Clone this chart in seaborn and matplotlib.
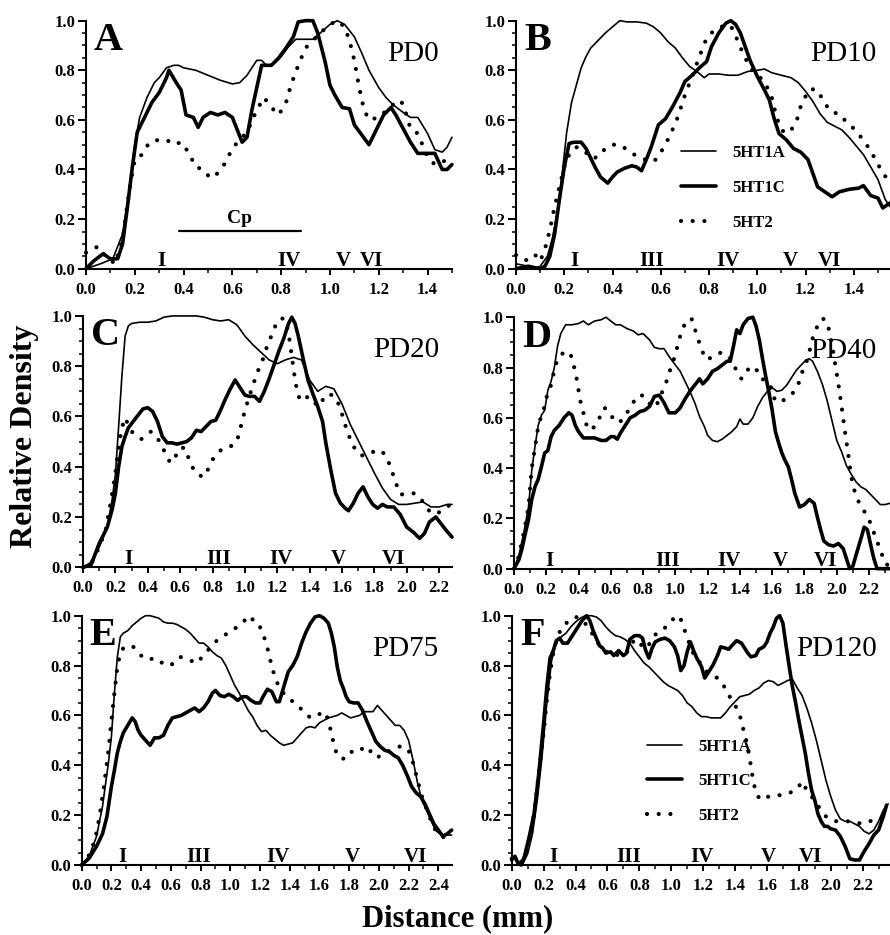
import numpy as np
import pandas as pd
import matplotlib
matplotlib.use("Agg")
import matplotlib.pyplot as plt
import seaborn as sns
from matplotlib.ticker import MultipleLocator, FormatStrFormatter

# ---------------- DATA ----------------
series_names = ["5HT1A", "5HT1C", "5HT2"]
panel_letters = ["A", "B", "C", "D", "E", "F"]
panel_ages = ["PD0", "PD10", "PD20", "PD40", "PD75", "PD120"]
panel_xmax = [1.5, 1.55, 2.28, 2.33, 2.49, 2.37]
panel_xtick_max = [1.4, 1.4, 2.2, 2.2, 2.4, 2.2]

A_5HT1A = [(0, 0), (0.06, 0.02), (0.11, 0.04), (0.15, 0.14), (0.18, 0.33), (0.2, 0.5), (0.22, 0.61), (0.25, 0.69),
           (0.28, 0.75), (0.3, 0.77), (0.33, 0.81), (0.36, 0.82), (0.38, 0.82), (0.4, 0.81), (0.45, 0.8), (0.5, 0.78),
           (0.55, 0.76), (0.6, 0.745), (0.63, 0.75), (0.66, 0.78), (0.7, 0.84), (0.72, 0.84), (0.74, 0.82),
           (0.77, 0.825), (0.8, 0.855), (0.83, 0.895), (0.86, 0.925), (0.9, 0.925), (0.93, 0.925), (0.96, 0.95),
           (1.0, 0.985), (1.03, 1.0), (1.06, 0.985), (1.1, 0.935), (1.13, 0.87), (1.16, 0.8), (1.2, 0.73),
           (1.23, 0.69), (1.26, 0.66), (1.3, 0.63), (1.33, 0.61), (1.36, 0.61), (1.4, 0.545), (1.43, 0.48),
           (1.46, 0.47), (1.48, 0.49), (1.5, 0.53)]
A_5HT1C = [(0, 0), (0.03, 0.03), (0.07, 0.06), (0.1, 0.04), (0.13, 0.04), (0.15, 0.10), (0.17, 0.25), (0.19, 0.41),
           (0.21, 0.55), (0.24, 0.61), (0.27, 0.67), (0.3, 0.71), (0.33, 0.77), (0.34, 0.80), (0.37, 0.75),
           (0.39, 0.72), (0.41, 0.62), (0.44, 0.61), (0.46, 0.57), (0.48, 0.61), (0.51, 0.63), (0.54, 0.62),
           (0.57, 0.63), (0.6, 0.61), (0.62, 0.56), (0.64, 0.51), (0.66, 0.53), (0.68, 0.64), (0.7, 0.73),
           (0.72, 0.82), (0.76, 0.82), (0.79, 0.85), (0.82, 0.89), (0.85, 0.935), (0.87, 0.995), (0.9, 1.0),
           (0.93, 1.0), (0.95, 0.95), (0.98, 0.835), (1.0, 0.74), (1.02, 0.70), (1.05, 0.65), (1.08, 0.645),
           (1.1, 0.58), (1.13, 0.54), (1.16, 0.50), (1.19, 0.56), (1.22, 0.62), (1.25, 0.65), (1.27, 0.62),
           (1.3, 0.565), (1.33, 0.51), (1.36, 0.465), (1.4, 0.465), (1.43, 0.465), (1.46, 0.40), (1.48, 0.40),
           (1.5, 0.42)]
A_5HT2 = [(0, 0.065), (0.05, 0.09), (0.08, 0.05), (0.12, 0.02), (0.15, 0.12), (0.18, 0.33), (0.2, 0.44),
          (0.23, 0.46), (0.26, 0.51), (0.3, 0.52), (0.33, 0.52), (0.36, 0.50), (0.39, 0.51), (0.42, 0.47),
          (0.45, 0.41), (0.48, 0.40), (0.51, 0.365), (0.54, 0.385), (0.57, 0.425), (0.6, 0.485), (0.63, 0.52),
          (0.66, 0.55), (0.7, 0.64), (0.73, 0.69), (0.76, 0.65), (0.79, 0.62), (0.82, 0.67), (0.84, 0.74),
          (0.87, 0.82), (0.9, 0.89), (0.93, 0.92), (0.96, 0.95), (1.0, 0.985), (1.03, 1.0), (1.06, 0.975),
          (1.08, 0.92), (1.1, 0.84), (1.12, 0.73), (1.14, 0.64), (1.16, 0.60), (1.2, 0.61), (1.24, 0.645),
          (1.28, 0.68), (1.3, 0.665), (1.33, 0.565), (1.36, 0.545), (1.4, 0.45), (1.43, 0.42), (1.46, 0.43),
          (1.5, 0.45)]

B_5HT1A = [(0, 0.02), (0.05, 0.01), (0.08, 0.0), (0.1, 0.01), (0.13, 0.05), (0.15, 0.12), (0.17, 0.22),
           (0.19, 0.37), (0.21, 0.55), (0.23, 0.67), (0.25, 0.74), (0.27, 0.81), (0.29, 0.855), (0.31, 0.89),
           (0.34, 0.92), (0.37, 0.95), (0.4, 0.975), (0.43, 1.0), (0.46, 0.995), (0.5, 0.995), (0.54, 0.99),
           (0.57, 0.975), (0.6, 0.95), (0.63, 0.915), (0.66, 0.89), (0.69, 0.85), (0.72, 0.815), (0.75, 0.795),
           (0.78, 0.77), (0.8, 0.785), (0.84, 0.785), (0.88, 0.78), (0.92, 0.78), (0.96, 0.795), (1.0, 0.80),
           (1.03, 0.805), (1.06, 0.79), (1.1, 0.78), (1.14, 0.77), (1.17, 0.75), (1.2, 0.715), (1.23, 0.675),
           (1.26, 0.625), (1.29, 0.59), (1.32, 0.575), (1.35, 0.56), (1.38, 0.53), (1.41, 0.495), (1.44, 0.46),
           (1.47, 0.41), (1.5, 0.36), (1.53, 0.28), (1.55, 0.25)]
B_5HT1C = [(0, 0.0), (0.05, 0.01), (0.1, 0.0), (0.12, 0.01), (0.14, 0.05), (0.16, 0.14), (0.18, 0.28), (0.2, 0.41),
           (0.22, 0.505), (0.24, 0.51), (0.27, 0.51), (0.29, 0.485), (0.31, 0.445), (0.33, 0.405), (0.35, 0.37),
           (0.38, 0.345), (0.4, 0.37), (0.42, 0.39), (0.45, 0.405), (0.48, 0.415), (0.5, 0.41), (0.52, 0.395),
           (0.54, 0.44), (0.56, 0.49), (0.59, 0.58), (0.62, 0.605), (0.65, 0.655), (0.68, 0.71), (0.7, 0.755),
           (0.73, 0.78), (0.76, 0.81), (0.79, 0.835), (0.81, 0.895), (0.84, 0.95), (0.87, 0.99), (0.89, 1.0),
           (0.91, 0.985), (0.93, 0.95), (0.95, 0.895), (0.97, 0.84), (1.0, 0.775), (1.03, 0.72), (1.05, 0.68),
           (1.07, 0.605), (1.09, 0.545), (1.12, 0.52), (1.15, 0.485), (1.18, 0.47), (1.21, 0.44), (1.23, 0.385),
           (1.25, 0.33), (1.28, 0.31), (1.31, 0.29), (1.34, 0.31), (1.38, 0.32), (1.42, 0.325), (1.44, 0.335),
           (1.47, 0.295), (1.5, 0.285), (1.52, 0.245), (1.55, 0.265)]
B_5HT2 = [(0, 0.055), (0.03, 0.035), (0.06, 0.035), (0.08, 0.055), (0.1, 0.03), (0.12, 0.08), (0.14, 0.155),
          (0.16, 0.25), (0.18, 0.33), (0.2, 0.41), (0.22, 0.46), (0.25, 0.49), (0.28, 0.48), (0.31, 0.445),
          (0.34, 0.45), (0.37, 0.485), (0.4, 0.50), (0.43, 0.50), (0.46, 0.48), (0.49, 0.46), (0.52, 0.45),
          (0.55, 0.43), (0.58, 0.44), (0.61, 0.485), (0.64, 0.54), (0.67, 0.61), (0.7, 0.70), (0.73, 0.775),
          (0.76, 0.855), (0.79, 0.93), (0.82, 0.96), (0.85, 0.975), (0.88, 0.985), (0.9, 0.965), (0.92, 0.915),
          (0.94, 0.87), (0.96, 0.83), (0.98, 0.80), (1.0, 0.78), (1.03, 0.755), (1.06, 0.69), (1.08, 0.61),
          (1.1, 0.56), (1.12, 0.545), (1.14, 0.56), (1.16, 0.585), (1.18, 0.655), (1.2, 0.695), (1.22, 0.725),
          (1.25, 0.72), (1.28, 0.665), (1.31, 0.63), (1.34, 0.625), (1.37, 0.59), (1.4, 0.565), (1.43, 0.53),
          (1.46, 0.49), (1.49, 0.44), (1.52, 0.385), (1.55, 0.35)]

C_5HT1A = [(0, 0), (0.05, 0.02), (0.1, 0.08), (0.15, 0.16), (0.18, 0.27), (0.2, 0.37), (0.22, 0.56), (0.24, 0.76),
           (0.26, 0.92), (0.28, 0.96), (0.3, 0.97), (0.35, 0.975), (0.4, 0.975), (0.45, 0.98), (0.5, 0.995),
           (0.55, 1.0), (0.6, 1.0), (0.65, 1.0), (0.7, 1.0), (0.75, 0.995), (0.8, 0.985), (0.85, 0.98),
           (0.9, 0.985), (0.95, 0.965), (1.0, 0.92), (1.05, 0.885), (1.1, 0.855), (1.15, 0.825), (1.2, 0.81),
           (1.25, 0.825), (1.3, 0.835), (1.35, 0.825), (1.4, 0.745), (1.45, 0.70), (1.5, 0.72), (1.55, 0.71),
           (1.6, 0.65), (1.65, 0.57), (1.7, 0.505), (1.75, 0.44), (1.8, 0.375), (1.85, 0.315), (1.9, 0.27),
           (1.95, 0.25), (2.0, 0.25), (2.05, 0.255), (2.1, 0.26), (2.15, 0.24), (2.2, 0.24), (2.25, 0.25),
           (2.28, 0.25)]
C_5HT1C = [(0, 0), (0.05, 0.01), (0.1, 0.095), (0.15, 0.16), (0.18, 0.23), (0.2, 0.295), (0.22, 0.40), (0.24, 0.48),
           (0.26, 0.52), (0.28, 0.555), (0.31, 0.58), (0.34, 0.605), (0.37, 0.63), (0.4, 0.635), (0.43, 0.62),
           (0.46, 0.58), (0.49, 0.52), (0.52, 0.495), (0.55, 0.495), (0.58, 0.49), (0.61, 0.495), (0.64, 0.50),
           (0.67, 0.515), (0.7, 0.545), (0.73, 0.54), (0.76, 0.56), (0.79, 0.58), (0.82, 0.585), (0.85, 0.625),
           (0.88, 0.67), (0.91, 0.71), (0.94, 0.745), (0.97, 0.715), (1.0, 0.685), (1.03, 0.68), (1.06, 0.68),
           (1.09, 0.66), (1.12, 0.70), (1.15, 0.75), (1.18, 0.805), (1.21, 0.86), (1.24, 0.91), (1.27, 0.97),
           (1.29, 0.995), (1.31, 0.97), (1.33, 0.92), (1.36, 0.83), (1.39, 0.745), (1.42, 0.69), (1.45, 0.64),
           (1.48, 0.58), (1.5, 0.495), (1.53, 0.39), (1.56, 0.295), (1.59, 0.255), (1.62, 0.235), (1.64, 0.225),
           (1.67, 0.255), (1.7, 0.295), (1.73, 0.32), (1.76, 0.28), (1.79, 0.25), (1.82, 0.235), (1.85, 0.25),
           (1.88, 0.24), (1.92, 0.24), (1.96, 0.21), (2.0, 0.16), (2.04, 0.14), (2.08, 0.115), (2.11, 0.135),
           (2.14, 0.18), (2.18, 0.20), (2.21, 0.175), (2.24, 0.15), (2.28, 0.12)]
C_5HT2 = [(0, 0), (0.05, 0.015), (0.1, 0.08), (0.14, 0.15), (0.17, 0.255), (0.2, 0.375), (0.22, 0.48), (0.24, 0.555),
          (0.26, 0.595), (0.28, 0.565), (0.3, 0.54), (0.33, 0.525), (0.36, 0.51), (0.39, 0.525), (0.42, 0.54),
          (0.45, 0.52), (0.48, 0.495), (0.51, 0.45), (0.54, 0.415), (0.57, 0.44), (0.6, 0.475), (0.63, 0.475),
          (0.66, 0.42), (0.69, 0.38), (0.72, 0.365), (0.75, 0.36), (0.78, 0.40), (0.81, 0.44), (0.84, 0.46),
          (0.87, 0.475), (0.9, 0.48), (0.93, 0.485), (0.96, 0.52), (0.99, 0.60), (1.02, 0.665), (1.05, 0.725),
          (1.08, 0.78), (1.11, 0.825), (1.14, 0.885), (1.17, 0.93), (1.2, 0.98), (1.23, 0.99), (1.25, 0.985),
          (1.27, 0.93), (1.29, 0.84), (1.31, 0.745), (1.33, 0.68), (1.36, 0.66), (1.39, 0.68), (1.42, 0.665),
          (1.45, 0.64), (1.48, 0.665), (1.51, 0.69), (1.54, 0.685), (1.57, 0.665), (1.6, 0.61), (1.63, 0.545),
          (1.66, 0.495), (1.69, 0.46), (1.72, 0.445), (1.75, 0.445), (1.78, 0.455), (1.81, 0.465), (1.84, 0.465),
          (1.87, 0.445), (1.9, 0.40), (1.93, 0.34), (1.96, 0.29), (2.0, 0.29), (2.04, 0.295), (2.08, 0.28),
          (2.11, 0.25), (2.15, 0.215), (2.19, 0.215), (2.23, 0.23), (2.27, 0.25)]

D_5HT1A = [(0, 0), (0.03, 0.05), (0.06, 0.14), (0.09, 0.245), (0.11, 0.39), (0.13, 0.485), (0.15, 0.57), (0.17, 0.61),
           (0.19, 0.63), (0.21, 0.71), (0.23, 0.745), (0.25, 0.80), (0.27, 0.885), (0.29, 0.935), (0.32, 0.97),
           (0.36, 0.97), (0.4, 0.975), (0.43, 0.985), (0.46, 0.97), (0.5, 0.985), (0.54, 0.99), (0.57, 1.0),
           (0.6, 0.985), (0.63, 0.97), (0.66, 0.97), (0.7, 0.955), (0.74, 0.945), (0.77, 0.93), (0.8, 0.935),
           (0.84, 0.91), (0.87, 0.88), (0.9, 0.875), (0.93, 0.875), (0.96, 0.845), (1.0, 0.81), (1.03, 0.785),
           (1.06, 0.745), (1.09, 0.705), (1.12, 0.66), (1.15, 0.605), (1.18, 0.565), (1.2, 0.53), (1.23, 0.51),
           (1.26, 0.505), (1.29, 0.515), (1.32, 0.53), (1.35, 0.545), (1.38, 0.565), (1.4, 0.595), (1.42, 0.575),
           (1.45, 0.575), (1.48, 0.60), (1.51, 0.645), (1.54, 0.68), (1.57, 0.705), (1.6, 0.72), (1.63, 0.705),
           (1.66, 0.71), (1.69, 0.73), (1.72, 0.76), (1.75, 0.79), (1.78, 0.81), (1.81, 0.83), (1.83, 0.835),
           (1.85, 0.825), (1.88, 0.785), (1.91, 0.735), (1.94, 0.67), (1.97, 0.59), (2.0, 0.51), (2.03, 0.465),
           (2.06, 0.41), (2.09, 0.375), (2.12, 0.345), (2.15, 0.325), (2.18, 0.315), (2.21, 0.295), (2.24, 0.275),
           (2.27, 0.255), (2.3, 0.255), (2.33, 0.26)]
D_5HT1C = [(0, 0), (0.03, 0.035), (0.05, 0.08), (0.07, 0.14), (0.09, 0.195), (0.11, 0.275), (0.13, 0.325),
           (0.15, 0.355), (0.17, 0.405), (0.19, 0.46), (0.21, 0.47), (0.23, 0.525), (0.25, 0.55), (0.28, 0.57),
           (0.31, 0.60), (0.34, 0.62), (0.36, 0.61), (0.38, 0.57), (0.4, 0.545), (0.43, 0.52), (0.46, 0.52),
           (0.5, 0.52), (0.54, 0.51), (0.57, 0.51), (0.6, 0.525), (0.62, 0.525), (0.64, 0.515), (0.66, 0.54),
           (0.69, 0.57), (0.72, 0.60), (0.75, 0.61), (0.78, 0.625), (0.81, 0.63), (0.84, 0.645), (0.87, 0.685),
           (0.9, 0.69), (0.93, 0.66), (0.96, 0.62), (1.0, 0.62), (1.03, 0.64), (1.06, 0.675), (1.09, 0.705),
           (1.12, 0.73), (1.15, 0.755), (1.17, 0.735), (1.2, 0.755), (1.23, 0.785), (1.26, 0.795), (1.29, 0.81),
           (1.32, 0.825), (1.34, 0.825), (1.36, 0.885), (1.38, 0.95), (1.4, 0.935), (1.42, 0.97), (1.45, 0.995),
           (1.48, 1.0), (1.5, 0.965), (1.52, 0.91), (1.54, 0.835), (1.56, 0.765), (1.58, 0.70), (1.6, 0.63),
           (1.62, 0.545), (1.64, 0.50), (1.66, 0.46), (1.68, 0.43), (1.7, 0.405), (1.72, 0.355), (1.74, 0.30),
           (1.77, 0.245), (1.8, 0.255), (1.83, 0.275), (1.86, 0.26), (1.88, 0.205), (1.9, 0.155), (1.92, 0.11),
           (1.95, 0.095), (1.98, 0.09), (2.01, 0.10), (2.04, 0.08), (2.06, 0.04), (2.08, 0.0), (2.1, 0.01),
           (2.12, 0.055), (2.15, 0.12), (2.17, 0.165), (2.19, 0.155), (2.21, 0.095), (2.23, 0.04), (2.25, 0.0),
           (2.33, 0.0)]
D_5HT2 = [(0, 0), (0.03, 0.05), (0.06, 0.14), (0.09, 0.245), (0.11, 0.40), (0.13, 0.48), (0.15, 0.565), (0.17, 0.61),
          (0.19, 0.645), (0.21, 0.705), (0.23, 0.73), (0.25, 0.79), (0.27, 0.835), (0.3, 0.855), (0.33, 0.865),
          (0.35, 0.855), (0.37, 0.81), (0.39, 0.75), (0.41, 0.67), (0.43, 0.62), (0.45, 0.57), (0.47, 0.55),
          (0.5, 0.565), (0.53, 0.60), (0.56, 0.64), (0.59, 0.625), (0.62, 0.59), (0.64, 0.58), (0.67, 0.59),
          (0.7, 0.62), (0.73, 0.65), (0.76, 0.685), (0.79, 0.69), (0.82, 0.68), (0.85, 0.645), (0.88, 0.645),
          (0.91, 0.69), (0.94, 0.735), (0.97, 0.795), (1.0, 0.85), (1.02, 0.905), (1.04, 0.945), (1.06, 0.975),
          (1.08, 0.99), (1.1, 0.995), (1.12, 0.955), (1.14, 0.915), (1.16, 0.875), (1.18, 0.845), (1.2, 0.83),
          (1.23, 0.845), (1.26, 0.855), (1.29, 0.86), (1.32, 0.845), (1.35, 0.83), (1.38, 0.785), (1.41, 0.755),
          (1.44, 0.785), (1.47, 0.805), (1.5, 0.795), (1.53, 0.755), (1.56, 0.75), (1.59, 0.725), (1.61, 0.68),
          (1.64, 0.66), (1.67, 0.67), (1.7, 0.685), (1.73, 0.70), (1.76, 0.73), (1.79, 0.79), (1.82, 0.835),
          (1.85, 0.915), (1.88, 0.965), (1.91, 0.995), (1.93, 0.99), (1.95, 0.955), (1.97, 0.895), (1.99, 0.815),
          (2.01, 0.735), (2.03, 0.645), (2.05, 0.55), (2.07, 0.46), (2.09, 0.365), (2.11, 0.31), (2.13, 0.275),
          (2.15, 0.245), (2.18, 0.22), (2.21, 0.18), (2.24, 0.125), (2.27, 0.075), (2.3, 0.02), (2.33, 0.01)]

E_5HT1A = [(0, 0), (0.05, 0.035), (0.1, 0.115), (0.14, 0.235), (0.18, 0.41), (0.2, 0.515), (0.22, 0.69), (0.24, 0.835),
           (0.26, 0.915), (0.28, 0.93), (0.31, 0.94), (0.34, 0.96), (0.37, 0.975), (0.4, 0.99), (0.43, 1.0),
           (0.46, 1.0), (0.49, 0.995), (0.52, 0.99), (0.55, 0.975), (0.58, 0.97), (0.61, 0.97), (0.64, 0.965),
           (0.67, 0.955), (0.7, 0.945), (0.73, 0.93), (0.76, 0.91), (0.79, 0.89), (0.82, 0.89), (0.85, 0.875),
           (0.88, 0.855), (0.91, 0.84), (0.94, 0.83), (0.97, 0.80), (1.0, 0.76), (1.03, 0.72), (1.06, 0.69),
           (1.09, 0.655), (1.12, 0.62), (1.15, 0.595), (1.18, 0.56), (1.21, 0.535), (1.24, 0.54), (1.27, 0.52),
           (1.3, 0.505), (1.33, 0.49), (1.36, 0.48), (1.39, 0.485), (1.42, 0.49), (1.45, 0.51), (1.48, 0.53),
           (1.51, 0.55), (1.54, 0.555), (1.57, 0.55), (1.6, 0.57), (1.63, 0.58), (1.66, 0.59), (1.69, 0.595),
           (1.72, 0.60), (1.75, 0.61), (1.78, 0.60), (1.81, 0.59), (1.84, 0.595), (1.87, 0.60), (1.9, 0.615),
           (1.93, 0.615), (1.96, 0.615), (1.99, 0.64), (2.02, 0.62), (2.05, 0.60), (2.08, 0.58), (2.11, 0.56),
           (2.14, 0.56), (2.17, 0.54), (2.2, 0.50), (2.23, 0.42), (2.26, 0.33), (2.29, 0.26), (2.32, 0.22),
           (2.35, 0.18), (2.38, 0.14), (2.41, 0.125), (2.44, 0.12), (2.49, 0.12)]
E_5HT1C = [(0, 0), (0.05, 0.027), (0.1, 0.075), (0.14, 0.125), (0.17, 0.195), (0.2, 0.315), (0.22, 0.38), (0.24, 0.45),
           (0.26, 0.495), (0.28, 0.53), (0.3, 0.55), (0.32, 0.57), (0.34, 0.59), (0.36, 0.575), (0.38, 0.54),
           (0.4, 0.52), (0.43, 0.50), (0.46, 0.48), (0.49, 0.51), (0.52, 0.51), (0.55, 0.52), (0.58, 0.56),
           (0.61, 0.59), (0.64, 0.595), (0.67, 0.60), (0.7, 0.61), (0.73, 0.62), (0.76, 0.63), (0.79, 0.615),
           (0.82, 0.63), (0.85, 0.655), (0.88, 0.69), (0.9, 0.70), (0.93, 0.68), (0.96, 0.675), (0.99, 0.685),
           (1.02, 0.675), (1.05, 0.66), (1.08, 0.675), (1.11, 0.675), (1.14, 0.66), (1.17, 0.65), (1.2, 0.65),
           (1.22, 0.675), (1.25, 0.705), (1.28, 0.695), (1.31, 0.655), (1.33, 0.655), (1.36, 0.715), (1.39, 0.775),
           (1.42, 0.80), (1.45, 0.835), (1.48, 0.89), (1.51, 0.935), (1.54, 0.97), (1.57, 0.995), (1.6, 1.0),
           (1.63, 0.99), (1.66, 0.97), (1.68, 0.93), (1.7, 0.875), (1.72, 0.795), (1.74, 0.74), (1.76, 0.71),
           (1.78, 0.675), (1.8, 0.655), (1.83, 0.65), (1.86, 0.65), (1.89, 0.62), (1.92, 0.575), (1.95, 0.535),
           (1.98, 0.495), (2.01, 0.475), (2.04, 0.46), (2.07, 0.455), (2.1, 0.44), (2.13, 0.43), (2.16, 0.40),
           (2.19, 0.36), (2.22, 0.315), (2.25, 0.29), (2.28, 0.275), (2.31, 0.245), (2.34, 0.205), (2.37, 0.165),
           (2.4, 0.14), (2.43, 0.115), (2.46, 0.125), (2.49, 0.14)]
E_5HT2 = [(0, 0), (0.05, 0.04), (0.09, 0.10), (0.12, 0.195), (0.15, 0.315), (0.18, 0.46), (0.2, 0.58), (0.22, 0.69),
          (0.24, 0.795), (0.26, 0.85), (0.28, 0.87), (0.31, 0.875), (0.34, 0.88), (0.37, 0.86), (0.4, 0.84),
          (0.43, 0.825), (0.46, 0.825), (0.49, 0.83), (0.52, 0.815), (0.55, 0.81), (0.58, 0.80), (0.6, 0.80),
          (0.63, 0.82), (0.66, 0.835), (0.69, 0.83), (0.72, 0.825), (0.75, 0.815), (0.78, 0.81), (0.81, 0.835),
          (0.84, 0.855), (0.87, 0.875), (0.9, 0.895), (0.93, 0.91), (0.96, 0.92), (0.99, 0.935), (1.02, 0.945),
          (1.05, 0.955), (1.08, 0.97), (1.11, 0.99), (1.13, 1.0), (1.15, 0.985), (1.17, 0.98), (1.19, 0.97),
          (1.21, 0.94), (1.23, 0.91), (1.25, 0.87), (1.27, 0.82), (1.29, 0.775), (1.31, 0.74), (1.33, 0.71),
          (1.35, 0.695), (1.38, 0.675), (1.41, 0.66), (1.44, 0.65), (1.47, 0.63), (1.5, 0.61), (1.53, 0.595),
          (1.56, 0.59), (1.59, 0.60), (1.62, 0.615), (1.64, 0.61), (1.66, 0.58), (1.68, 0.53), (1.7, 0.475),
          (1.72, 0.44), (1.75, 0.425), (1.78, 0.43), (1.81, 0.455), (1.84, 0.45), (1.87, 0.455), (1.9, 0.475),
          (1.93, 0.47), (1.96, 0.44), (1.99, 0.43), (2.02, 0.445), (2.05, 0.45), (2.08, 0.46), (2.11, 0.47),
          (2.14, 0.475), (2.17, 0.475), (2.2, 0.46), (2.23, 0.41), (2.26, 0.34), (2.29, 0.275), (2.32, 0.225),
          (2.35, 0.18), (2.38, 0.14), (2.41, 0.12), (2.44, 0.11), (2.47, 0.115)]

F_5HT1A = [(0, 0.035), (0.03, 0.02), (0.05, 0.0), (0.07, 0.005), (0.1, 0.045), (0.13, 0.125), (0.16, 0.26),
           (0.19, 0.435), (0.22, 0.65), (0.25, 0.82), (0.28, 0.895), (0.31, 0.915), (0.34, 0.93), (0.37, 0.955),
           (0.4, 0.975), (0.43, 0.99), (0.46, 1.0), (0.5, 1.0), (0.53, 0.995), (0.56, 0.98), (0.59, 0.955),
           (0.62, 0.935), (0.65, 0.92), (0.68, 0.915), (0.71, 0.905), (0.74, 0.89), (0.77, 0.86), (0.8, 0.835),
           (0.83, 0.81), (0.86, 0.795), (0.89, 0.775), (0.92, 0.755), (0.95, 0.735), (0.98, 0.72), (1.01, 0.71),
           (1.04, 0.70), (1.07, 0.68), (1.1, 0.65), (1.13, 0.635), (1.16, 0.61), (1.19, 0.595), (1.22, 0.595),
           (1.25, 0.59), (1.28, 0.59), (1.31, 0.59), (1.34, 0.61), (1.37, 0.635), (1.4, 0.655), (1.43, 0.675),
           (1.46, 0.68), (1.49, 0.685), (1.52, 0.70), (1.55, 0.71), (1.58, 0.73), (1.61, 0.74), (1.64, 0.735),
           (1.67, 0.72), (1.7, 0.73), (1.73, 0.74), (1.76, 0.745), (1.79, 0.71), (1.82, 0.68), (1.85, 0.63),
           (1.88, 0.57), (1.91, 0.50), (1.94, 0.42), (1.97, 0.34), (2.0, 0.275), (2.03, 0.22), (2.06, 0.185),
           (2.09, 0.175), (2.12, 0.175), (2.15, 0.165), (2.18, 0.155), (2.21, 0.135), (2.24, 0.125), (2.27, 0.14),
           (2.3, 0.175), (2.33, 0.22), (2.36, 0.245)]
F_5HT1C = [(0, 0.02), (0.02, 0.035), (0.04, 0.005), (0.06, 0.0), (0.08, 0.035), (0.11, 0.115), (0.14, 0.205),
           (0.17, 0.37), (0.2, 0.57), (0.22, 0.715), (0.24, 0.83), (0.26, 0.86), (0.28, 0.90), (0.3, 0.91),
           (0.32, 0.89), (0.35, 0.89), (0.38, 0.92), (0.41, 0.95), (0.44, 0.98), (0.47, 1.0), (0.49, 0.98),
           (0.51, 0.94), (0.53, 0.91), (0.55, 0.88), (0.57, 0.87), (0.59, 0.85), (0.62, 0.855), (0.64, 0.84),
           (0.67, 0.86), (0.7, 0.84), (0.72, 0.85), (0.74, 0.905), (0.77, 0.92), (0.8, 0.92), (0.82, 0.91),
           (0.84, 0.86), (0.86, 0.83), (0.88, 0.87), (0.9, 0.895), (0.93, 0.905), (0.96, 0.91), (0.99, 0.90),
           (1.02, 0.875), (1.04, 0.84), (1.06, 0.78), (1.08, 0.80), (1.1, 0.855), (1.12, 0.895), (1.14, 0.86),
           (1.16, 0.83), (1.19, 0.795), (1.21, 0.75), (1.23, 0.77), (1.26, 0.80), (1.29, 0.84), (1.31, 0.875),
           (1.34, 0.87), (1.36, 0.865), (1.38, 0.88), (1.41, 0.90), (1.44, 0.89), (1.46, 0.87), (1.48, 0.85),
           (1.5, 0.835), (1.53, 0.84), (1.55, 0.865), (1.58, 0.875), (1.6, 0.895), (1.62, 0.93), (1.64, 0.955),
           (1.66, 0.99), (1.68, 1.0), (1.7, 0.97), (1.72, 0.88), (1.74, 0.795), (1.76, 0.715), (1.78, 0.65),
           (1.8, 0.58), (1.82, 0.515), (1.84, 0.45), (1.86, 0.37), (1.88, 0.30), (1.9, 0.26), (1.92, 0.205),
           (1.94, 0.175), (1.96, 0.155), (1.98, 0.155), (2.0, 0.145), (2.03, 0.14), (2.06, 0.115), (2.09, 0.075),
           (2.12, 0.025), (2.15, 0.02), (2.18, 0.02), (2.21, 0.055), (2.24, 0.085), (2.27, 0.12), (2.3, 0.14),
           (2.33, 0.195), (2.35, 0.24)]
F_5HT2 = [(0, 0.025), (0.03, 0.02), (0.05, 0.007), (0.08, 0.027), (0.11, 0.10), (0.14, 0.205), (0.17, 0.37),
          (0.2, 0.53), (0.22, 0.66), (0.24, 0.77), (0.26, 0.85), (0.28, 0.90), (0.31, 0.95), (0.34, 0.97),
          (0.37, 0.98), (0.4, 0.995), (0.43, 0.99), (0.46, 0.97), (0.49, 0.94), (0.52, 0.915), (0.55, 0.88),
          (0.58, 0.86), (0.61, 0.85), (0.64, 0.85), (0.67, 0.84), (0.7, 0.84), (0.73, 0.86), (0.76, 0.895),
          (0.79, 0.905), (0.82, 0.875), (0.85, 0.87), (0.88, 0.91), (0.91, 0.93), (0.94, 0.945), (0.97, 0.955),
          (1.0, 0.98), (1.03, 0.995), (1.05, 1.0), (1.07, 0.97), (1.09, 0.93), (1.11, 0.895), (1.13, 0.86),
          (1.15, 0.835), (1.17, 0.82), (1.2, 0.795), (1.23, 0.77), (1.26, 0.76), (1.29, 0.75), (1.32, 0.73),
          (1.35, 0.695), (1.38, 0.66), (1.41, 0.63), (1.43, 0.60), (1.45, 0.55), (1.47, 0.50), (1.49, 0.435),
          (1.51, 0.355), (1.53, 0.29), (1.55, 0.27), (1.58, 0.26), (1.61, 0.275), (1.64, 0.28), (1.67, 0.28),
          (1.7, 0.28), (1.73, 0.285), (1.76, 0.295), (1.79, 0.305), (1.82, 0.335), (1.85, 0.30), (1.88, 0.275),
          (1.91, 0.245), (1.94, 0.22), (1.97, 0.195), (2.0, 0.18), (2.04, 0.175), (2.08, 0.175), (2.12, 0.175),
          (2.16, 0.17), (2.2, 0.165), (2.24, 0.175), (2.28, 0.18), (2.32, 0.185), (2.36, 0.22)]

# cortical layer labels per panel
A_layer_names = ["I", "IV", "V", "VI"];               A_layer_x = [0.31, 0.83, 1.056, 1.17]
B_layer_names = ["I", "III", "IV", "V", "VI"];        B_layer_x = [0.24, 0.56, 0.88, 1.135, 1.30]
C_layer_names = ["I", "III", "IV", "V", "VI"];        C_layer_x = [0.28, 0.84, 1.22, 1.58, 1.92]
D_layer_names = ["I", "III", "IV", "V", "VI"];        D_layer_x = [0.22, 0.955, 1.33, 1.65, 1.93]
E_layer_names = ["I", "III", "IV", "V", "VI"];        E_layer_x = [0.275, 0.79, 1.32, 1.82, 2.245]
F_layer_names = ["I", "III", "IV", "V", "VI"];        F_layer_x = [0.26, 0.73, 1.19, 1.61, 1.87]

# Cp bar in panel A (x span and height)
Cp_x = [0.38, 0.88]
Cp_y = [0.153, 0.153]

# ---------------- STYLE ----------------
sns.set_style("ticks")
plt.rcParams["font.family"] = ["Liberation Serif", "DejaVu Serif"]
plt.rcParams["axes.linewidth"] = 1.5
plt.rcParams["text.color"] = "black"
plt.rcParams["axes.labelcolor"] = "black"
plt.rcParams["xtick.color"] = "black"
plt.rcParams["ytick.color"] = "black"
plt.rcParams["axes.edgecolor"] = "black"

panels = [
    (A_5HT1A, A_5HT1C, A_5HT2, A_layer_names, A_layer_x),
    (B_5HT1A, B_5HT1C, B_5HT2, B_layer_names, B_layer_x),
    (C_5HT1A, C_5HT1C, C_5HT2, C_layer_names, C_layer_x),
    (D_5HT1A, D_5HT1C, D_5HT2, D_layer_names, D_layer_x),
    (E_5HT1A, E_5HT1C, E_5HT2, E_layer_names, E_layer_x),
    (F_5HT1A, F_5HT1C, F_5HT2, F_layer_names, F_layer_x),
]

# axes rectangles (figure fractions)
axes_rects = [
    [0.0966, 0.7126, 0.4112, 0.2653],
    [0.5798, 0.7126, 0.4202, 0.2653],
    [0.0933, 0.3933, 0.4146, 0.2688],
    [0.5775, 0.3918, 0.4225, 0.2689],
    [0.0918, 0.0749, 0.4157, 0.2666],
    [0.5750, 0.0749, 0.4247, 0.2666],
]

line_styles = {
    "5HT1A": dict(color="black", linewidth=1.2, linestyle="-"),
    "5HT1C": dict(color="black", linewidth=2.6, linestyle="-"),
    "5HT2": dict(color="black", linewidth=3.0, linestyle=(0, (0.01, 2.8)), dash_capstyle="round"),
}

fig = plt.figure(figsize=(8.9, 9.35), dpi=100)

for i, (s1a, s1c, s2, lnames, lx) in enumerate(panels):
    ax = fig.add_axes(axes_rects[i])
    handles = []
    for name, pts in zip(series_names, [s1a, s1c, s2]):
        df = pd.DataFrame(pts, columns=["Distance", "Density"])
        sns.lineplot(data=df, x="Distance", y="Density", ax=ax, estimator=None, sort=False,
                     legend=False, **line_styles[name])
        ln = ax.get_lines()[-1]
        ln.set_clip_on(False)
        ln.set_solid_capstyle("round")
        handles.append(ln)

    ax.set_xlim(0, panel_xmax[i])
    ax.set_ylim(0, 1.0)
    ax.set_xlabel("")
    ax.set_ylabel("")
    sns.despine(ax=ax)
    ax.set_xticks(np.round(np.arange(0, panel_xtick_max[i] + 0.01, 0.2), 1))
    ax.set_yticks(np.round(np.arange(0, 1.01, 0.2), 1))
    ax.xaxis.set_major_formatter(FormatStrFormatter("%.1f"))
    ax.yaxis.set_major_formatter(FormatStrFormatter("%.1f"))
    ax.yaxis.set_minor_locator(MultipleLocator(0.05))
    ax.xaxis.set_minor_locator(MultipleLocator(0.1))
    ax.tick_params(axis="both", which="major", direction="out", width=1.4, colors="black")
    ax.tick_params(axis="y", which="major", length=6, pad=1.5, labelsize=12)
    ax.tick_params(axis="x", which="major", length=4.5, pad=5, labelsize=12)
    ax.tick_params(axis="both", which="minor", direction="out", width=1.1, length=3, colors="black")
    for lab in ax.get_xticklabels() + ax.get_yticklabels():
        lab.set_fontweight("bold")

    # panel letter and age
    ax.text(0.022, 0.995, panel_letters[i], transform=ax.transAxes, ha="left", va="top",
            fontsize=29, fontweight="bold", color="black")
    ax.text(0.965, 0.866, panel_ages[i], transform=ax.transAxes, ha="right", va="center",
            fontsize=21, color="black")
    # layer labels
    for nm, xv in zip(lnames, lx):
        ax.text(xv, 0.012, nm, ha="center", va="baseline", fontsize=15, fontweight="bold", color="black")

    if i == 0:
        ax.plot(Cp_x, Cp_y, color="black", linewidth=1.6)
        ax.text(np.mean(Cp_x), 0.185, "Cp", ha="center", va="baseline", fontsize=14,
                fontweight="bold", color="black")
    if i == 1:
        leg = ax.legend(handles, series_names, loc="upper left", bbox_to_anchor=(0.44, 0.50), frameon=False,
                        borderpad=0, borderaxespad=0, handlelength=2.1, handletextpad=1.0, labelspacing=1.15,
                        prop=dict(family="Liberation Serif", weight="bold", size=12))
        for t in leg.get_texts():
            t.set_color("black")
    if i == 5:
        leg = ax.legend(handles, series_names, loc="upper left", bbox_to_anchor=(0.357, 0.506), frameon=False,
                        borderpad=0, borderaxespad=0, handlelength=2.1, handletextpad=1.0, labelspacing=1.1,
                        prop=dict(family="Liberation Serif", weight="bold", size=12))
        for t in leg.get_texts():
            t.set_color("black")

fig.text(0.028, 0.533, "Relative Density", rotation=90, ha="center", va="center",
         fontsize=23, fontweight="bold", color="black")
fig.text(0.514, 0.0095, "Distance (mm)", ha="center", va="baseline", fontsize=22,
         fontweight="bold", color="black")

fig.savefig("out.png", dpi=100)
